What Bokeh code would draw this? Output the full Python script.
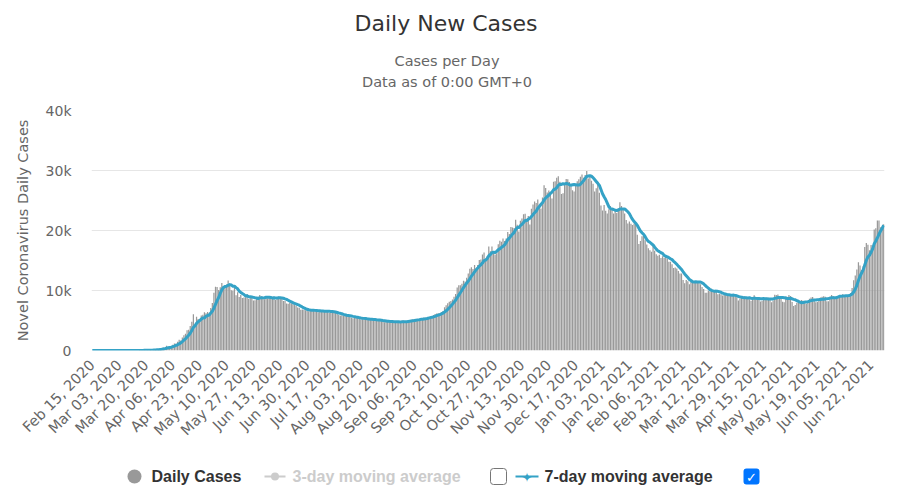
import math
import pandas as pd
from bokeh.plotting import figure
from bokeh.layouts import column
from bokeh.models import ColumnDataSource, FixedTicker, Label, BoxAnnotation, Range1d
from bokeh.embed import file_html
from bokeh.resources import INLINE

# ---------------- data (daily new cases) ----------------
start_date = "2020-02-15"

cases_2020_02 = [0, 0, 0, 0, 0, 0, 0, 0, 0, 0, 0, 0, 0, 0, 0]
cases_2020_03 = [0, 1, 0, 0, 1, 6, 0, 3, 0, 3, 8, 6, 17, 14, 4, 30, 21, 33, 52, 54,
                 53, 61, 71, 57, 163, 182, 196, 228, 270, 302, 501]
cases_2020_04 = [440, 771, 601, 582, 658, 954, 1154, 1175, 1459, 1786,
                 1667, 2186, 2558, 2774, 3388, 3448, 4070, 4785, 6060, 4268,
                 5642, 5236, 4774, 5849, 5966, 6361, 6198, 6411, 5841, 7099]
cases_2020_05 = [7933, 9623, 10633, 10581, 10102, 10559, 11231, 10699, 10817, 11012,
                 11656, 10899, 10028, 9974, 10598, 9200, 9709, 8926, 9263, 8764,
                 8849, 8894, 9434, 8599, 8946, 8915, 8338, 8371, 8572, 8952, 9268]
cases_2020_06 = [9035, 8863, 8536, 8831, 8726, 8855, 8984, 8595, 8985, 8404,
                 8779, 8987, 8706, 8835, 8246, 8248, 7843, 7790, 7972, 7889,
                 7728, 7600, 7425, 7176, 7113, 6800, 6852, 6791, 6719, 6693]
cases_2020_07 = [6556, 6760, 6718, 6736, 6632, 6611, 6368, 6562, 6509, 6635,
                 6611, 6615, 6537, 6248, 6422, 6428, 6406, 6234, 6109, 5940,
                 5842, 5862, 5811, 5871, 5765, 5871, 5635, 5475, 5395, 5509, 5482]
cases_2020_08 = [5462, 5427, 5159, 5204, 5241, 5267, 5212, 5241, 5189, 5118,
                 4945, 5102, 5057, 5065, 5061, 4969, 4839, 4718, 4790, 4767,
                 4870, 4921, 4852, 4696, 4676, 4696, 4711, 4829, 4980, 4993, 4729]
cases_2020_09 = [4729, 4952, 4995, 5110, 5205, 5195, 5185, 5099, 5172, 5363,
                 5310, 5488, 5449, 5509, 5529, 5670, 5762, 5905, 6065, 6148,
                 6196, 6215, 6431, 6595, 7212, 7523, 7867, 8135, 8232, 8481]
cases_2020_10 = [8945, 9412, 10499, 10888, 10888, 11115, 11615, 11493, 12126, 12846,
                 13634, 13868, 13592, 14231, 13754, 14231, 15099, 15150, 15982, 16319,
                 14922, 15700, 17340, 16521, 17347, 16550, 15982, 16202, 17717, 18283, 18140]
cases_2020_11 = [18665, 18257, 18648, 19768, 19404, 20582, 20498, 20396, 21798, 20977,
                 19851, 21608, 21983, 22702, 22778, 21798, 22410, 20985, 23610, 24318,
                 24822, 24581, 25173, 24326, 23675, 25487, 27543, 27100, 26338, 26683]
cases_2020_12 = [26402, 25345, 28145, 28209, 28782, 29039, 28137, 26097, 26190, 27927,
                 28585, 28555, 28080, 27328, 26689, 26509, 27656, 28214, 28552, 28948,
                 29350, 28776, 29258, 29935, 28675, 29018, 28284, 27787, 26513, 27039, 27747]
cases_2021_01 = [26301, 24150, 23351, 24246, 23309, 22851, 23541, 24092, 23652, 22851,
                 23315, 22934, 23652, 24715, 24092, 23652, 22851, 21734, 21152, 21513,
                 21127, 20921, 21152, 20921, 19290, 17741, 18241, 19032, 19238, 18359, 17648]
cases_2021_02 = [17048, 16714, 16474, 17688, 16627, 16048, 15803, 15977, 15428, 15710,
                 15438, 15566, 15350, 14807, 14785, 14385, 13733, 13833, 13647, 13253,
                 12842, 12828, 11742, 11198, 11749, 11534, 11024, 11571]
cases_2021_03 = [11359, 11522, 11385, 11440, 11595, 11035, 10575, 10253, 9637, 9624,
                 9974, 9875, 10281, 9915, 9808, 9803, 9376, 9445, 9393, 9149,
                 9299, 9383, 9145, 9123, 9178, 9195, 9290, 8993, 8883, 8351, 8683]
cases_2021_04 = [8765, 8800, 9040, 8885, 8739, 8549, 8272, 8425, 9195, 8794,
                 8835, 8702, 8173, 8271, 8662, 8810, 8806, 8789, 8704, 8053,
                 8320, 9284, 9270, 9321, 8807, 8697, 8114, 8053, 8996, 8731]
cases_2021_05 = [9270, 9073, 8100, 7400, 7600, 7900, 8100, 8200, 8400, 8300,
                 7976, 7790, 8217, 8633, 8838, 8926, 8554, 8051, 8063, 8337,
                 8832, 8951, 9036, 8951, 8195, 8217, 8947, 9270, 9063, 8910, 9016]
cases_2021_06 = [8976, 9035, 9147, 9364, 9247, 9028, 9145, 9145, 9600, 10407,
                 11699, 12505, 13510, 14723, 14185, 13397, 14057, 17262, 17906, 17611,
                 16715, 17594, 17378, 20182, 20393, 21665, 21650, 20538, 20616, 21042]

x_tick_labels = ["Feb 15, 2020", "Mar 03, 2020", "Mar 20, 2020", "Apr 06, 2020",
                 "Apr 23, 2020", "May 10, 2020", "May 27, 2020", "Jun 13, 2020",
                 "Jun 30, 2020", "Jul 17, 2020", "Aug 03, 2020", "Aug 20, 2020",
                 "Sep 06, 2020", "Sep 23, 2020", "Oct 10, 2020", "Oct 27, 2020",
                 "Nov 13, 2020", "Nov 30, 2020", "Dec 17, 2020", "Jan 03, 2021",
                 "Jan 20, 2021", "Feb 06, 2021", "Feb 23, 2021", "Mar 12, 2021",
                 "Mar 29, 2021", "Apr 15, 2021", "May 02, 2021", "May 19, 2021",
                 "Jun 05, 2021", "Jun 22, 2021"]
y_ticks = [0, 10000, 20000, 30000, 40000]
y_tick_labels = ["0", "10k", "20k", "30k", "40k"]

title_text = "Daily New Cases"
subtitle_lines = ["Cases per Day", "Data as of 0:00 GMT+0"]
legend_labels = ["Daily Cases", "3-day moving average", "7-day moving average"]

# ---------------- build ----------------
daily_cases = (cases_2020_02 + cases_2020_03 + cases_2020_04 + cases_2020_05 +
               cases_2020_06 + cases_2020_07 + cases_2020_08 + cases_2020_09 +
               cases_2020_10 + cases_2020_11 + cases_2020_12 + cases_2021_01 +
               cases_2021_02 + cases_2021_03 + cases_2021_04 + cases_2021_05 +
               cases_2021_06)
N = len(daily_cases)
dates = pd.date_range(start_date, periods=N, freq="D")
date_strings = [d.strftime("%b %d, %Y") for d in dates]
avg7 = pd.Series(daily_cases, dtype=float).rolling(7, min_periods=1).mean().tolist()

src = ColumnDataSource(dict(x=list(range(N)), cases=daily_cases, avg7=avg7))

FONT = "DejaVu Sans"
LEG_FONT = "Liberation Sans"
BLUE = "#34a2c6"
W = 892
FR_L, FR_R, FR_T, FR_B = 91, 884, 110, 350


def strip(top, bottom):
    """A bare figure whose frame is aligned with the chart's frame; data = page px."""
    f = figure(width=W, height=bottom - top, output_backend="svg",
               toolbar_location=None, title=None,
               x_range=Range1d(FR_L, FR_R), y_range=Range1d(bottom, top),
               x_axis_location=None, y_axis_location=None,
               min_border_left=FR_L, min_border_right=W - FR_R,
               min_border_top=0, min_border_bottom=0)
    f.grid.visible = False
    f.outline_line_color = None
    return f


# ---- header (title + subtitles) ----
HEAD_H = 100
head = strip(0, HEAD_H)
head.add_layout(Label(x=445.5, y=23, text=title_text, text_font=FONT,
                      text_font_size="22px", text_color="#333333",
                      text_align="center", text_baseline="alphabetic"))
for ypos, line in zip([60, 81], subtitle_lines):
    head.add_layout(Label(x=446.5, y=ypos, text=line, text_font=FONT,
                          text_font_size="14.5px", text_color="#666666",
                          text_align="center", text_baseline="alphabetic"))

# ---- main chart ----
MAIN_BOTTOM = 455
p = figure(width=W, height=MAIN_BOTTOM - HEAD_H, output_backend="svg",
           toolbar_location=None, title=None,
           x_range=Range1d(-0.5, N - 0.5), y_range=Range1d(0, 40000),
           min_border_left=FR_L, min_border_right=W - FR_R,
           min_border_top=FR_T - HEAD_H, min_border_bottom=MAIN_BOTTOM - FR_B)
p.outline_line_color = None
p.background_fill_color = "white"
p.border_fill_color = "white"

p.vbar(x="x", top="cases", width=0.78, source=src,
       fill_color="#999999", line_color=None)
p.line(x="x", y="avg7", source=src, line_color=BLUE, line_width=3,
       line_join="round")

xa = p.xaxis[0]
x_tick_pos = [date_strings.index(lbl) for lbl in x_tick_labels]
xa.ticker = FixedTicker(ticks=x_tick_pos)
xa.major_label_overrides = {pos: lbl for pos, lbl in zip(x_tick_pos, x_tick_labels)}
xa.major_label_orientation = math.pi / 4
xa.axis_line_color = None
xa.major_tick_line_color = None
xa.minor_tick_line_color = None
xa.major_tick_out = 0
xa.major_tick_in = 0
xa.minor_tick_out = 0
xa.major_label_text_font = FONT
xa.major_label_text_font_size = "14.5px"
xa.major_label_text_color = "#666666"
xa.major_label_standoff = 12
p.xgrid.visible = False

ya = p.yaxis[0]
ya.ticker = FixedTicker(ticks=y_ticks)
ya.major_label_overrides = {t: l for t, l in zip(y_ticks, y_tick_labels)}
ya.axis_line_color = None
ya.major_tick_line_color = None
ya.minor_tick_line_color = None
ya.major_tick_out = 0
ya.major_tick_in = 0
ya.minor_tick_out = 0
ya.major_label_text_font = FONT
ya.major_label_text_font_size = "14px"
ya.major_label_text_color = "#666666"
ya.major_label_standoff = 20
ya.axis_label = "Novel Coronavirus Daily Cases"
ya.axis_label_text_font = FONT
ya.axis_label_text_font_size = "14.5px"
ya.axis_label_text_font_style = "normal"
ya.axis_label_text_color = "#666666"
ya.axis_label_standoff = 12
p.ygrid.ticker = FixedTicker(ticks=y_ticks)
p.ygrid.grid_line_color = "#e6e6e6"
p.ygrid.grid_line_width = 1

# ---- legend strip ----
LEG_BOTTOM = 489
leg = strip(MAIN_BOTTOM, LEG_BOTTOM)
LY = 476


def ltext(x, t, color, size="16px", font=LEG_FONT, style="bold", align="left", dy=0):
    leg.add_layout(Label(x=x, y=LY + dy, text=t, text_font=font, text_font_size=size,
                         text_color=color, text_font_style=style,
                         text_align=align, text_baseline="middle"))


def lbox(L, R, T, B, fill, line=None, radius=0):
    leg.add_layout(BoxAnnotation(left=L, right=R, top=T, bottom=B,
                                 fill_color=fill, fill_alpha=1,
                                 line_color=line, line_width=1, line_alpha=1,
                                 border_radius=radius))


# Daily Cases
leg.scatter([134], [LY], size=14, marker="circle", fill_color="#999999", line_color=None)
ltext(151, legend_labels[0], "#333333")
# 3-day (inactive)
leg.line([264, 285], [LY, LY], line_color="#cccccc", line_width=2)
leg.scatter([274.5], [LY], size=8, marker="circle", fill_color="#cccccc", line_color=None)
ltext(292, legend_labels[1], "#cccccc")
lbox(490, 506, LY - 8, LY + 8, "#ffffff", line="#767676", radius=3)
# 7-day
leg.line([515, 538], [LY, LY], line_color=BLUE, line_width=2)
ltext(526.5, "\u2726", BLUE, size="13px", font=FONT, style="normal", align="center", dy=1)
ltext(544, legend_labels[2], "#333333")
lbox(743, 759, LY - 8, LY + 8, "#0075ff", radius=3)
ltext(751, "\u2713", "#ffffff", size="13px", font=FONT, style="bold", align="center", dy=1)

layout = column(head, p, leg, spacing=0)
open("out.html", "w").write(file_html(layout, INLINE))
